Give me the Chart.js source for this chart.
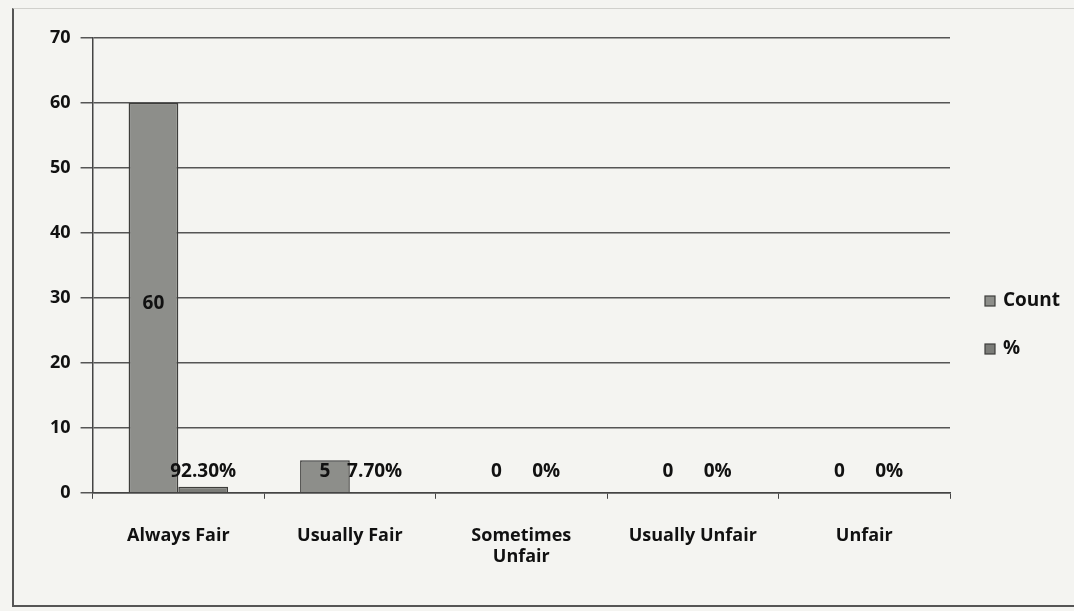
<!DOCTYPE html>
<html>
<head>
<meta charset="utf-8">
<script src="https://cdn.jsdelivr.net/npm/chart.js@4"></script>
<style>
  html, body { margin: 0; padding: 0; background: #f4f4f1; }
  #wrap { position: relative; width: 1074px; height: 611px; }
  #frame { position: absolute; left: 12px; top: 8px; width: 1070px; height: 596px;
           border-left: 2px solid #555; border-bottom: 2px solid #555; border-top: 1px solid #d0d0cc; }
  canvas { position: absolute; left: 0; top: 0; }
</style>
</head>
<body>
<div id="wrap">
  <div id="frame"></div>
  <canvas id="fairChart" width="1074" height="611"></canvas>
</div>
<script>
// categories and values
const categories = ['Always Fair', 'Usually Fair', ['Sometimes', 'Unfair'], 'Usually Unfair', 'Unfair'];
const seriesNames = ['Count', '%'];
const countValues = [60, 5, 0, 0, 0];
const percentValues = [0.923, 0.077, 0, 0, 0];
const percentLabels = ['92.30%', '7.70%', '0%', '0%', '0%'];
const yTicks = [0, 10, 20, 30, 40, 50, 60, 70];

const fontFamily = '"Open Sans", sans-serif';

// value labels in the middle of each bar, lifted above the axis when the bar is too short
const valueLabels = {
    id: 'valueLabels',
    afterDatasetsDraw(chart) {
        const ctx = chart.ctx;
        const base = chart.scales.y.getPixelForValue(0);
        ctx.save();
        ctx.font = 'bold 19px ' + fontFamily;
        ctx.fillStyle = '#111';
        ctx.textAlign = 'center';
        ctx.textBaseline = 'middle';
        chart.data.datasets.forEach((ds, i) => {
            const meta = chart.getDatasetMeta(i);
            meta.data.forEach((bar, j) => {
                const text = i === 0 ? String(ds.data[j]) : percentLabels[j];
                const mid = (bar.y + base) / 2 + 6;
                const y = Math.min(mid, base - 21);
                ctx.fillText(text, bar.x, y);
            });
        });
        ctx.restore();
    }
};

// legend on the right, drawn by hand so it sits where the original one is
const sideLegend = {
    id: 'sideLegend',
    afterDraw(chart) {
        const ctx = chart.ctx;
        ctx.save();
        ctx.font = 'bold 19px ' + fontFamily;
        ctx.textBaseline = 'middle';
        chart.data.datasets.forEach((ds, i) => {
            const y = 301 + i * 48;
            ctx.fillStyle = ds.backgroundColor;
            ctx.strokeStyle = '#3d3d3b';
            ctx.lineWidth = 1.2;
            ctx.fillRect(985, y - 5, 10, 10);
            ctx.strokeRect(985, y - 5, 10, 10);
            ctx.fillStyle = '#111';
            ctx.fillText(ds.label, 1003, y);
        });
        ctx.restore();
    }
};

new Chart(document.getElementById('fairChart'), {
    type: 'bar',
    data: {
        labels: categories,
        datasets: [
            {
                label: seriesNames[0],
                data: countValues,
                backgroundColor: '#8d8e8a',
                borderColor: '#3d3d3b',
                borderWidth: 1.5,
                categoryPercentage: 0.58,
                barPercentage: 1.0
            },
            {
                label: seriesNames[1],
                data: percentValues,
                backgroundColor: '#7b7c78',
                borderColor: '#3d3d3b',
                borderWidth: 1.5,
                categoryPercentage: 0.58,
                barPercentage: 1.0
            }
        ]
    },
    options: {
        responsive: false,
        animation: false,
        layout: { padding: { top: 38, left: 40, right: 124, bottom: 17 } },
        plugins: {
            tooltip: { enabled: false },
            legend: { display: false }
        },
        scales: {
            x: {
                border: { color: '#444', width: 1.5 },
                grid: { drawOnChartArea: false, drawTicks: true, tickLength: 6, offset: true, color: '#444' },
                ticks: {
                    color: '#111',
                    padding: 26,
                    maxRotation: 0,
                    font: { family: fontFamily, size: 18, weight: 'bold' }
                }
            },
            y: {
                min: 0,
                max: 70,
                afterBuildTicks(axis) { axis.ticks = yTicks.map(v => ({ value: v })); },
                border: { color: '#444', width: 1.5 },
                grid: { color: '#555', lineWidth: 1.5, tickLength: 12 },
                ticks: {
                    color: '#111',
                    padding: 10,
                    font: { family: fontFamily, size: 18, weight: 'bold' }
                }
            }
        }
    },
    plugins: [valueLabels, sideLegend]
});
</script>
</body>
</html>
